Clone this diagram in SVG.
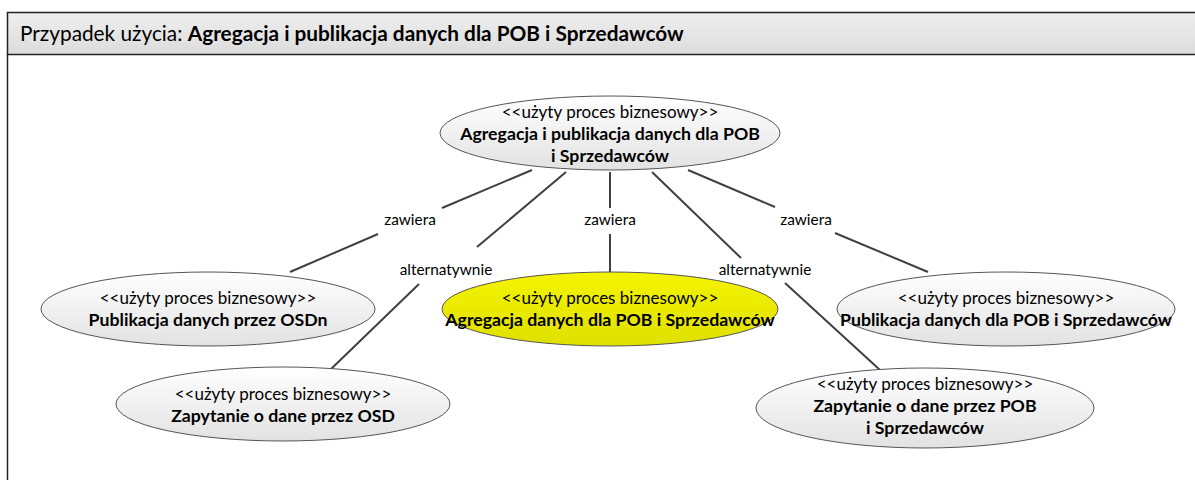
<svg xmlns="http://www.w3.org/2000/svg" width="1195" height="480" viewBox="0 0 1195 480">
<style>
text{font-family:Lato,"Liberation Sans",sans-serif;fill:#000}
.st{font-size:17px;text-anchor:middle}
.nm{font-size:17.7px;font-weight:bold;text-anchor:middle}
.lb{font-size:15.4px;text-anchor:middle}
.uc{fill:url(#g);stroke:#555;stroke-width:1}
.ucy{fill:url(#y);stroke:#555;stroke-width:1}
.cn{stroke:#404040;stroke-width:2;fill:none}
</style>
<defs>
<linearGradient id="g" x1="0" y1="0" x2="0" y2="1"><stop offset="0" stop-color="#ffffff"/><stop offset="1" stop-color="#e2e2e2"/></linearGradient>
<linearGradient id="y" x1="0" y1="0" x2="0" y2="1"><stop offset="0" stop-color="#f4f400"/><stop offset="1" stop-color="#e0e000"/></linearGradient>
<linearGradient id="h" x1="0" y1="0" x2="0" y2="1"><stop offset="0" stop-color="#efefef"/><stop offset="1" stop-color="#dcdcdc"/></linearGradient>
</defs>
<rect x="0" y="0" width="1195" height="480" fill="#fff"/>
<g id="frame">
<rect x="7.5" y="12.5" width="1200" height="42" fill="url(#h)" stroke="#222" stroke-width="1.5"/>
<line x1="7.5" y1="54" x2="7.5" y2="480" stroke="#222" stroke-width="1.5"/>
<text x="20" y="41" style="font-size:20.8px">Przypadek użycia: <tspan font-weight="bold">Agregacja i publikacja danych dla POB i Sprzedawców</tspan></text>
</g>
<g id="connectors">
<line class="cn" x1="532" y1="170" x2="442" y2="208"/>
<line class="cn" x1="378" y1="234" x2="290" y2="272"/>
<line class="cn" x1="566" y1="172" x2="477" y2="247"/>
<line class="cn" x1="419" y1="284" x2="330" y2="370"/>
<line class="cn" x1="610" y1="172" x2="610" y2="208"/>
<line class="cn" x1="610" y1="234" x2="610" y2="272"/>
<line class="cn" x1="652" y1="172" x2="741" y2="258"/>
<line class="cn" x1="785" y1="283" x2="880" y2="370"/>
<line class="cn" x1="688" y1="170" x2="775" y2="207"/>
<line class="cn" x1="835" y1="233" x2="928" y2="272"/>
<text class="lb" x="410" y="225">zawiera</text>
<text class="lb" x="446" y="275">alternatywnie</text>
<text class="lb" x="610" y="225">zawiera</text>
<text class="lb" x="765" y="275">alternatywnie</text>
<text class="lb" x="806" y="225">zawiera</text>
</g>
<g id="n-top">
<ellipse class="uc" cx="610" cy="133" rx="170" ry="37"/>
<text class="st" x="610" y="118">&lt;&lt;użyty proces biznesowy&gt;&gt;</text>
<text class="nm" x="610" y="140">Agregacja i publikacja danych dla POB</text>
<text class="nm" x="610" y="162">i Sprzedawców</text>
</g>
<g id="n-osdn">
<ellipse class="uc" cx="208" cy="309" rx="167" ry="37"/>
<text class="st" x="208" y="304">&lt;&lt;użyty proces biznesowy&gt;&gt;</text>
<text class="nm" x="208" y="326">Publikacja danych przez OSDn</text>
</g>
<g id="n-agg">
<ellipse class="ucy" cx="610" cy="309" rx="168" ry="37"/>
<text class="st" x="610" y="304">&lt;&lt;użyty proces biznesowy&gt;&gt;</text>
<text class="nm" x="610" y="326">Agregacja danych dla POB i Sprzedawców</text>
</g>
<g id="n-pub">
<ellipse class="uc" cx="1006" cy="309" rx="169" ry="37"/>
<text class="st" x="1006" y="304">&lt;&lt;użyty proces biznesowy&gt;&gt;</text>
<text class="nm" x="1006" y="326">Publikacja danych dla POB i Sprzedawców</text>
</g>
<g id="n-osd">
<ellipse class="uc" cx="283" cy="404" rx="167" ry="37"/>
<text class="st" x="283" y="400">&lt;&lt;użyty proces biznesowy&gt;&gt;</text>
<text class="nm" x="283" y="422">Zapytanie o dane przez OSD</text>
</g>
<g id="n-zpob">
<ellipse class="uc" cx="925" cy="408" rx="169" ry="40"/>
<text class="st" x="925" y="390">&lt;&lt;użyty proces biznesowy&gt;&gt;</text>
<text class="nm" x="925" y="412">Zapytanie o dane przez POB</text>
<text class="nm" x="925" y="434">i Sprzedawców</text>
</g>
</svg>
